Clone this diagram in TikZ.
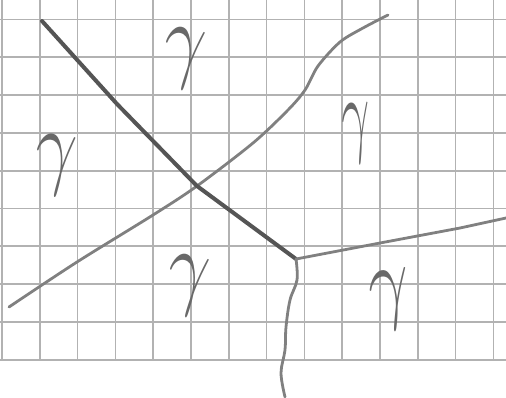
\documentclass[tikz,border=0pt]{standalone}
\usepackage{tikz}
\tikzset{every picture/.style={line width=0.75pt}}
\definecolor{gridgray}{RGB}{178,178,178}
\definecolor{inkdark}{RGB}{85,85,85}
\definecolor{inkgray}{RGB}{128,128,128}
\definecolor{inkgam}{RGB}{105,105,105}
\tikzset{
  sqline/.style ={gridgray, line width=1.3pt},
  wallline/.style={inkdark, line width=3pt, line cap=round, line join=round},
  penline/.style ={inkgray, line width=2.1pt, line cap=round, line join=round},
  gam/.style    ={text=inkgam, inner sep=0pt, font=\Huge, yscale=2.9, xscale=2.2},
}

\begin{document}
\begin{tikzpicture}[x=0.75pt, y=-0.75pt]
        \useasboundingbox (0,0) rectangle (506,397);
        % squared paper
        \foreach \k in {0,...,13}
            \draw[sqline] ({2+37.8*\k},0) -- ({2+37.8*\k},360);
        \foreach \k in {0,...,9}
            \draw[sqline] (0,{19.5+37.8*\k}) -- (506,{19.5+37.8*\k});
        % junction points
        \coordinate (tl) at (42,21);
        \coordinate (cross) at (197,186);
        \coordinate (fork) at (296,259);
        \coordinate (re) at (506,218);
        \draw[penline] plot[smooth, tension=0.5] coordinates {(9,307) (77,262) (153,215) (cross) (253,143) (288,110) (305,90) (318,66) (340,42) (363,28) (388,15)};
        \draw[wallline] (tl) -- (117,104) -- (cross) -- (fork);
        \draw[penline] (fork) -- (380,243) -- (460,228) -- (re);
        \draw[penline] plot[smooth, tension=0.6] coordinates {(fork) (297,280) (290,300) (286,327) (285,350) (281,373) (285,397)};
        % labels
        \node[gam, rotate=-8] (g1) at (184,59) {$\gamma$};
        \node[gam, rotate=-5] (g2) at (56,166) {$\gamma$};
        \node[gam, rotate=5, xscale=0.7] (g3) at (357,134) {$\gamma$};
        \node[gam, rotate=-8] (g4) at (188,286) {$\gamma$};
        \node[gam, rotate=8] (g5) at (391,300) {$\gamma$};
    \end{tikzpicture}
\end{document}
